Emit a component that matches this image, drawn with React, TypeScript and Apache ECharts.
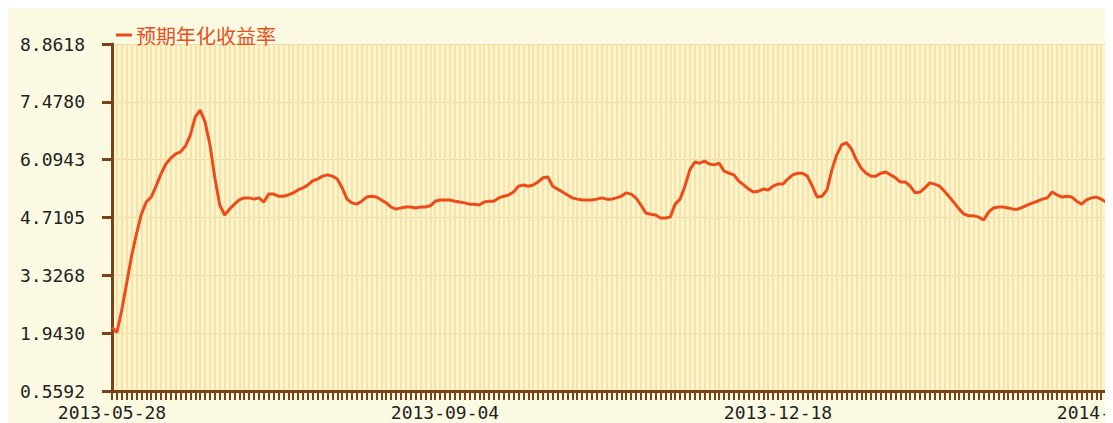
import React, { useEffect, useRef } from "react";
import * as echarts from "echarts";

// ---- data ----
const seriesName = "预期年化收益率";
const startDate = "2013-05-28";
// exchange holidays (weekdays with no trading) in the period
const holidays = [
  "2013-06-10", "2013-06-11", "2013-06-12",
  "2013-09-19", "2013-09-20",
  "2013-10-01", "2013-10-02", "2013-10-03", "2013-10-04", "2013-10-07",
  "2014-01-01", "2014-01-31",
  "2014-02-03", "2014-02-04", "2014-02-05", "2014-02-06",
];
const yieldValues = [
  2.08, 1.96, 2.5, 3.14, 3.79, 4.32, 4.79, 5.08, 5.2, 5.46,
  5.75, 5.99, 6.13, 6.23, 6.28, 6.42, 6.68, 7.12, 7.28, 7.0,
  6.45, 5.66, 5.01, 4.77, 4.91, 5.03, 5.13, 5.18, 5.18, 5.15,
  5.18, 5.08, 5.27, 5.27, 5.22, 5.22, 5.25, 5.3, 5.37, 5.42,
  5.49, 5.59, 5.63, 5.7, 5.73, 5.7, 5.63, 5.42, 5.15, 5.06,
  5.03, 5.1, 5.2, 5.22, 5.2, 5.13, 5.06, 4.96, 4.91, 4.94,
  4.96, 4.96, 4.94, 4.96, 4.96, 4.99, 5.1, 5.13, 5.13, 5.13,
  5.1, 5.08, 5.06, 5.03, 5.03, 5.01, 5.08, 5.1, 5.1, 5.18,
  5.22, 5.25, 5.32, 5.46, 5.49, 5.46, 5.49, 5.56, 5.66, 5.68,
  5.46, 5.39, 5.32, 5.25, 5.18, 5.15, 5.13, 5.13, 5.13, 5.15,
  5.18, 5.15, 5.15, 5.18, 5.22, 5.3, 5.27, 5.18, 5.01, 4.82,
  4.79, 4.77, 4.7, 4.7, 4.72, 5.03, 5.15, 5.46, 5.85, 6.04,
  6.01, 6.06, 5.99, 5.97, 6.01, 5.82, 5.77, 5.73, 5.58, 5.49,
  5.39, 5.32, 5.34, 5.39, 5.37, 5.46, 5.51, 5.51, 5.63, 5.73,
  5.77, 5.77, 5.7, 5.46, 5.2, 5.22, 5.37, 5.85, 6.21, 6.45,
  6.5, 6.35, 6.09, 5.89, 5.77, 5.7, 5.7, 5.77, 5.8, 5.73,
  5.66, 5.56, 5.56, 5.46, 5.3, 5.32, 5.42, 5.54, 5.51, 5.46,
  5.34, 5.2, 5.06, 4.91, 4.79, 4.75, 4.75, 4.72, 4.65, 4.84,
  4.94, 4.96, 4.96, 4.94, 4.91, 4.91, 4.96, 5.01, 5.06, 5.1,
  5.15, 5.18, 5.32, 5.25, 5.2, 5.22, 5.2, 5.1, 5.03, 5.13,
  5.18, 5.2, 5.15, 5.08, 5.03, 4.99,
];
// y axis: base value and step of the printed tick labels
const yBase = 0.55924;
const yStep = 1.38376;
const ySteps = 6;
const xLabelEvery = 68;

function tradingDays(start: string, count: number, hol: string[]): string[] {
  const out: string[] = [];
  const [y, m, d] = start.split("-").map(Number);
  let t = Date.UTC(y, m - 1, d);
  const pad = (n: number) => (n < 10 ? "0" + n : "" + n);
  while (out.length < count) {
    const dt = new Date(t);
    const wd = dt.getUTCDay();
    const s = `${dt.getUTCFullYear()}-${pad(dt.getUTCMonth() + 1)}-${pad(dt.getUTCDate())}`;
    if (wd !== 0 && wd !== 6 && hol.indexOf(s) < 0) out.push(s);
    t += 86400000;
  }
  return out;
}
const categories = tradingDays(startDate, yieldValues.length, holidays);

const BROWN = "#7A4218";

export default function App() {
  const ref = useRef<HTMLDivElement>(null);
  useEffect(() => {
    document.documentElement.style.overflow = "hidden";
    document.body.style.overflow = "hidden";
    const chart = echarts.init(ref.current!, undefined, { renderer: "svg" });
    const pxPerCat = 333 / xLabelEvery;
    chart.setOption({
      animation: false,
      backgroundColor: "#FCFAE3",
      legend: {
        data: [seriesName],
        left: 103,
        top: 12,
        icon: "rect",
        itemWidth: 16,
        itemHeight: 3,
        itemGap: 10,
        textStyle: {
          color: "#E8501E",
          fontSize: 20,
          fontFamily: "Noto Sans CJK SC",
          padding: [0, 0, 0, -1],
        },
      },
      grid: {
        left: 104,
        top: 36,
        width: pxPerCat * (categories.length - 1),
        height: 347,
        show: true,
        backgroundColor: "#FCF4CF",
        borderWidth: 0,
        containLabel: false,
        outerBoundsMode: "none",
      },
      xAxis: {
        type: "category",
        data: categories,
        boundaryGap: false,
        axisLine: { lineStyle: { color: BROWN, width: 3 } },
        axisTick: {
          interval: 0,
          length: 9,
          lineStyle: { color: BROWN, width: 2 },
        },
        axisLabel: {
          interval: xLabelEvery - 1,
          margin: 12,
          color: "#222",
          fontSize: 18,
          fontFamily: "DejaVu Sans Mono",
        },
        splitLine: {
          show: true,
          interval: 0,
          lineStyle: { color: "#F5E4A6", width: 2 },
        },
      },
      yAxis: {
        type: "value",
        min: 0,
        max: yStep * ySteps,
        interval: yStep,
        axisLine: { show: true, lineStyle: { color: BROWN, width: 3 } },
        axisTick: { show: true, length: 10, lineStyle: { color: BROWN, width: 3 } },
        axisLabel: {
          margin: 27,
          color: "#222",
          fontSize: 18,
          fontFamily: "DejaVu Sans Mono",
          formatter: (v: number) => (v + yBase).toFixed(4),
        },
        splitLine: { show: true, lineStyle: { color: "#EADBA4", width: 1 } },
      },
      series: [
        {
          name: seriesName,
          type: "line",
          data: yieldValues.map((v) => v - yBase),
          symbol: "none",
          lineStyle: { color: "#EE4B1B", width: 3 },
          itemStyle: { color: "#EE4B1B" },
        },
      ],
    });
    return () => chart.dispose();
  }, []);
  return <div ref={ref} style={{ width: 1105, height: 415 }} />;
}
